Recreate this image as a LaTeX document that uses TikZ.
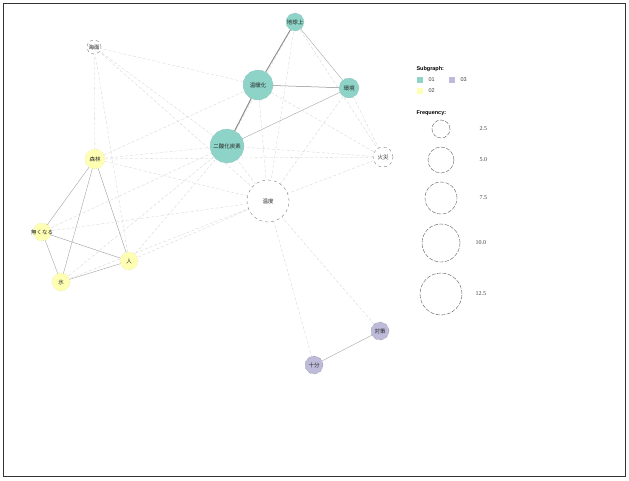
\documentclass[tikz,border=0pt]{standalone}
\usepackage{fontspec}
\usetikzlibrary{backgrounds}
\setmainfont{Liberation Serif}
\setsansfont{Liberation Sans}
\newfontfamily\jp{Noto Sans CJK JP}
\definecolor{sgA}{HTML}{8DD3C7}
\definecolor{sgB}{HTML}{FFFFB3}
\definecolor{sgC}{HTML}{BEBADA}
\begin{document}
\begin{tikzpicture}[x=1pt,y=-1pt,
  word/.style={circle,inner sep=0pt,draw=black!45,dashed,line width=0.3pt,
    font=\jp\fontsize{5.5}{6}\selectfont,text=black!85},
  wA/.style={word,fill=sgA,draw=sgA!70!black!60},
  wB/.style={word,fill=sgB,draw=black!35,dotted},
  wC/.style={word,fill=sgC,draw=black!40},
  wN/.style={word,fill=white,draw=black!60},
  strong/.style={draw=black!45,line width=0.5pt},
  inner/.style={draw=black!38,line width=0.35pt},
  weak/.style={draw=black!18,line width=0.3pt,dash pattern=on 3pt off 2pt},
  legtitle/.style={font=\sffamily\bfseries\fontsize{5.5}{6}\selectfont,anchor=west},
  legtext/.style={font=\sffamily\fontsize{5.5}{6}\selectfont,anchor=west,text=black!75},
  sizetext/.style={font=\rmfamily\fontsize{6}{7}\selectfont,anchor=west,text=black!75},
  sizering/.style={circle,draw=black!70,dashed,dash pattern=on 4pt off 1.5pt,line width=0.35pt,inner sep=0pt}]
\useasboundingbox (0,0) rectangle (629,480);

% words
\node[wA,minimum size=18pt] (chikyu) at (295,22) {地球上};
\node[wA,minimum size=30pt] (ondanka) at (258,85) {温暖化};
\node[wA,minimum size=20pt] (kankyo) at (349,88) {環境};
\node[wA,minimum size=34pt] (nisanka) at (227,146) {二酸化炭素};
\node[wN,minimum size=14pt] (kaimen) at (94,47) {海面};
\node[wN,minimum size=20pt] (kasai) at (383,157) {火災};
\node[wN,minimum size=42pt] (ondo) at (268,201) {温度};
\node[wB,minimum size=20pt] (shinrin) at (95,159) {森林};
\node[wB,minimum size=18pt] (nakunaru) at (42,232) {};
\node[font=\jp\fontsize{5.5}{6}\selectfont,text=black!85] (nakunarutext) at (nakunaru) {無くなる};
\node[wB,minimum size=18pt] (hito) at (129,261) {人};
\node[wB,minimum size=18pt] (kori) at (61,282) {氷};
\node[wC,minimum size=18pt] (taisaku) at (380,331) {対策};
\node[wC,minimum size=18pt] (jubun) at (314,365) {十分};

\begin{pgfonlayer}{background}
\draw[black!80,line width=1.2pt,fill=white] (3.5,3.5) rectangle (625.5,476.5);
% edges between subgraphs and to unclustered words
\foreach \a/\b in {kaimen/ondanka,kaimen/nisanka,kaimen/shinrin,kaimen/ondo,kaimen/hito,
  chikyu/ondo,chikyu/kasai,chikyu/nisanka,kankyo/kasai,kankyo/ondo,ondanka/kasai,ondanka/ondo,
  nisanka/kasai,nisanka/ondo,ondo/kasai,shinrin/nisanka,shinrin/ondanka,shinrin/ondo,
  hito/ondo,hito/nisanka,kori/ondo,kori/nisanka,nakunaru/nisanka,nakunaru/ondo,
  ondo/taisaku,ondo/jubun,shinrin/kasai}
  \path[weak] (\a.center) -- (\b.center);
% edges inside subgraphs
\path[strong,line width=0.9pt] (chikyu.center) -- (ondanka.center);
\path[strong,line width=1pt] (ondanka.center) -- (nisanka.center);
\path[strong] (ondanka.center) -- (kankyo.center);
\path[inner] (chikyu.center) -- (kankyo.center);
\path[inner] (nisanka.center) -- (kankyo.center);
\path[inner] (shinrin.center) -- (nakunaru.center);
\path[inner] (shinrin.center) -- (kori.center);
\path[inner] (shinrin.center) -- (hito.center);
\path[inner] (nakunaru.center) -- (hito.center);
\path[inner] (nakunaru.center) -- (kori.center);
\path[inner] (kori.center) -- (hito.center);
\path[inner] (taisaku.center) -- (jubun.center);
\end{pgfonlayer}

% legend
\node[legtitle] (lsub) at (413,69) {Subgraph:};
\node[fill=sgA,minimum size=5.5pt,inner sep=0pt] (sq1) at (420,80) {};
\node[legtext] (t1) at (425,80) {01};
\node[fill=sgC,minimum size=5.5pt,inner sep=0pt] (sq3) at (452,80) {};
\node[legtext] (t3) at (457,80) {03};
\node[fill=sgB,minimum size=5.5pt,inner sep=0pt] (sq2) at (420,91) {};
\node[legtext] (t2) at (425,91) {02};
\node[legtitle] (lfreq) at (413,113) {Frequency:};
\node[sizering,minimum size=18pt] (r1) at (441,129) {};
\node[sizetext] (s1) at (476,129) {2.5};
\node[sizering,minimum size=26pt] (r2) at (441,160) {};
\node[sizetext] (s2) at (476,160) {5.0};
\node[sizering,minimum size=32pt] (r3) at (441,198) {};
\node[sizetext] (s3) at (476,198) {7.5};
\node[sizering,minimum size=38pt] (r4) at (441,243) {};
\node[sizetext] (s4) at (472,243) {10.0};
\node[sizering,minimum size=42pt] (r5) at (441,294) {};
\node[sizetext] (s5) at (472,294) {12.5};
\end{tikzpicture}
\end{document}
